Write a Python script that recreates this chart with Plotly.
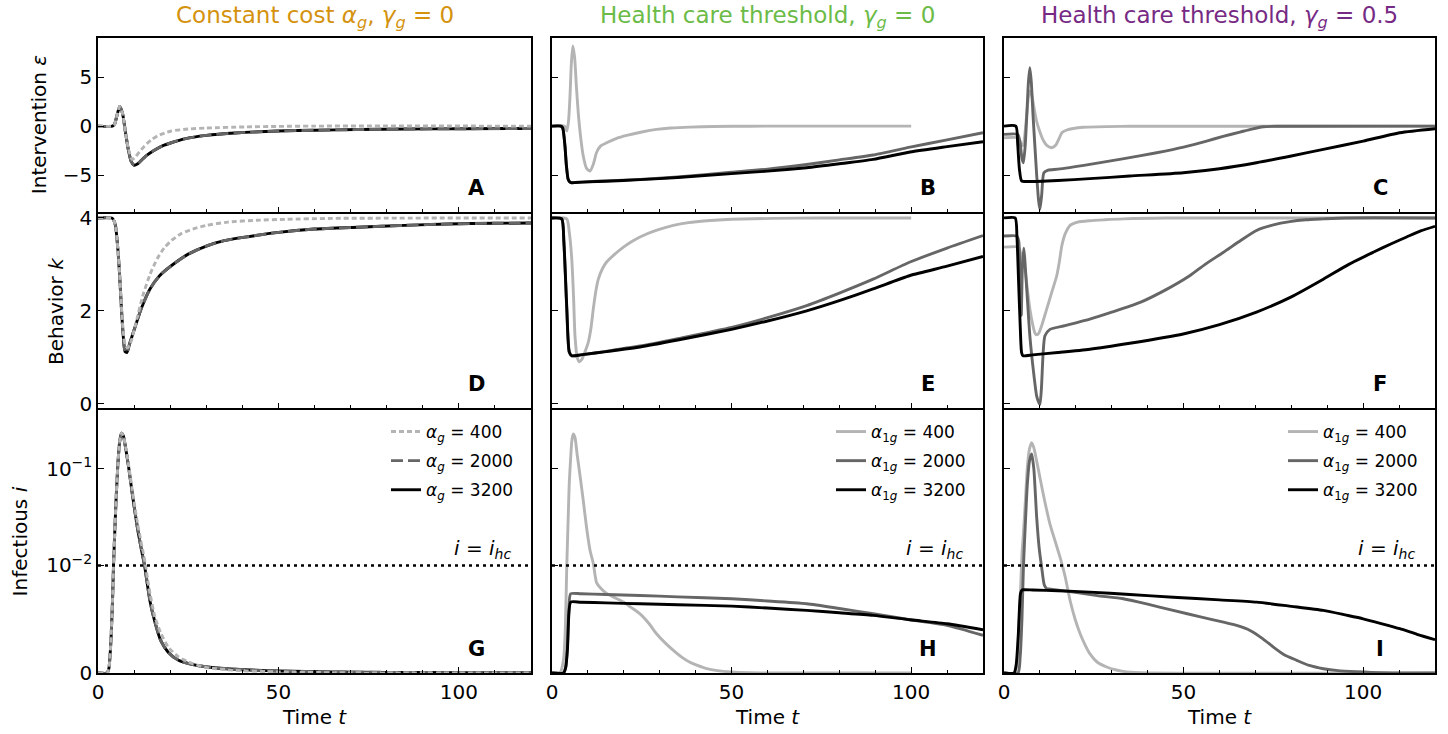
import numpy as np
import plotly.graph_objects as go

# ---------------- data ----------------
# Column 1: constant cost
t_A_hi = [0, 4.0, 4.6, 5.2, 6.0, 6.8, 7.6, 8.4, 9.2, 10.0, 11.0, 12.0, 13.5, 15.5, 18.0, 20.3, 24.0, 30.0, 38.0, 50.0, 60.0, 72.0, 85.0, 100.0, 120.0]
eps_A_3200 = [0, 0, 0.2, 1.0, 2.0, 1.3, -0.6, -2.4, -3.6, -4.0, -3.85, -3.5, -3.0, -2.5, -2.0, -1.7, -1.3, -0.95, -0.7, -0.5, -0.42, -0.35, -0.3, -0.27, -0.24]
eps_A_2000 = [0, 0, 0.2, 1.0, 2.0, 1.3, -0.6, -2.4, -3.6, -4.0, -3.85, -3.5, -3.0, -2.5, -2.0, -1.7, -1.3, -0.95, -0.7, -0.5, -0.42, -0.35, -0.3, -0.27, -0.24]
t_A_lo = [0, 4.0, 4.6, 5.2, 6.0, 6.8, 7.6, 8.4, 9.4, 10.4, 11.5, 12.5, 13.5, 15.0, 16.5, 18.5, 20.3, 25.0, 30.0, 41.0, 50.0, 60.0, 120.0]
eps_A_400 = [0, 0, 0.2, 1.0, 2.0, 1.3, -0.6, -2.3, -3.4, -3.15, -2.6, -2.2, -1.8, -1.35, -1.0, -0.7, -0.5, -0.3, -0.2, -0.08, -0.03, 0, 0]

t_D_hi = [0, 4.0, 4.8, 5.5, 6.0, 6.5, 7.0, 7.5, 8.0, 8.8, 10.4, 12.0, 14.4, 17.0, 20.3, 25.0, 30.2, 35.0, 40.2, 50.0, 60.0, 72.0, 85.0, 97.0, 110.0, 120.0]
k_D_3200 = [4.0, 3.99, 3.85, 3.33, 2.75, 2.04, 1.45, 1.12, 1.1, 1.3, 1.68, 2.05, 2.47, 2.75, 2.97, 3.22, 3.40, 3.51, 3.58, 3.69, 3.76, 3.80, 3.84, 3.87, 3.885, 3.89]
k_D_2000 = [4.0, 3.99, 3.85, 3.33, 2.75, 2.04, 1.45, 1.12, 1.1, 1.3, 1.68, 2.05, 2.47, 2.75, 2.97, 3.22, 3.40, 3.51, 3.58, 3.69, 3.76, 3.80, 3.84, 3.87, 3.885, 3.89]
t_D_lo = [0, 4.0, 4.8, 5.5, 6.0, 6.5, 7.0, 7.6, 8.2, 9.0, 10.4, 12.4, 14.4, 16.4, 18.3, 20.3, 23.0, 26.3, 30.0, 36.0, 44.0, 52.0, 65.0, 120.0]
k_D_400 = [4.0, 3.99, 3.85, 3.33, 2.8, 2.1, 1.55, 1.25, 1.2, 1.3, 1.7, 2.32, 2.78, 3.12, 3.35, 3.51, 3.66, 3.76, 3.84, 3.91, 3.95, 3.97, 3.99, 4.0]

t_G = [0, 2.5, 3.0, 3.5, 4.0, 4.3, 4.7, 5.0, 5.5, 6.0, 6.5, 7.0, 7.7, 8.5, 9.5, 10.9, 12.0, 12.9, 14.4, 15.8, 17.4, 19.5, 22.3, 26.0, 30.2, 38.0, 50.0, 65.0, 80.0, 100.0, 120.0]
i_G_3200 = [0, 0, 0.0004, 0.0025, 0.0065, 0.01, 0.025, 0.047, 0.11, 0.19, 0.233, 0.22, 0.16, 0.103, 0.055, 0.0248, 0.0148, 0.01, 0.0067, 0.0047, 0.003, 0.0019, 0.00118, 0.0008, 0.00056, 0.00035, 0.00019, 0.0001, 0.00006, 0.00003, 0.00002]
i_G_2000 = [0, 0, 0.0004, 0.0025, 0.0065, 0.01, 0.025, 0.047, 0.11, 0.19, 0.233, 0.22, 0.16, 0.103, 0.055, 0.0248, 0.0148, 0.01, 0.0067, 0.0047, 0.003, 0.0019, 0.00118, 0.0008, 0.00056, 0.00035, 0.00019, 0.0001, 0.00006, 0.00003, 0.00002]
i_G_400 = [0, 0, 0.0004, 0.0025, 0.0065, 0.01, 0.025, 0.047, 0.11, 0.19, 0.233, 0.22, 0.165, 0.108, 0.06, 0.028, 0.017, 0.0115, 0.0074, 0.0052, 0.0037, 0.0024, 0.0015, 0.0009, 0.0005, 0.00025, 0.0001, 0.00003, 0.00001, 0, 0]

# Column 2: health care threshold, gamma_g = 0
t_B_400 = [0, 3.5, 4.1, 4.6, 5.0, 5.4, 5.8, 6.3, 6.8, 7.3, 8.0, 8.7, 9.6, 10.6, 11.5, 12.4, 13.5, 15.2, 18.0, 20.8, 25.0, 29.1, 33.0, 38.4, 45.0, 55.0, 70.0, 100.0]
eps_B_400 = [0, 0, -0.5, 0.5, 3.0, 6.5, 8.2, 7.0, 4.0, 1.4, -1.2, -3.06, -4.3, -4.59, -3.9, -2.7, -2.05, -1.7, -1.25, -0.95, -0.6, -0.34, -0.2, -0.1, -0.04, -0.01, 0, 0]
t_B = [0, 2.5, 3.0, 3.6, 4.0, 4.5, 5.0, 5.5, 6.5, 10.0, 15.0, 24.5, 35.0, 50.0, 60.0, 70.9, 80.0, 89.4, 99.7, 110.0, 120.0]
eps_B_2000 = [0, 0, -0.2, -2.0, -4.0, -5.44, -5.72, -5.78, -5.76, -5.68, -5.6, -5.44, -5.2, -4.72, -4.4, -3.92, -3.45, -2.95, -2.15, -1.4, -0.68]
eps_B_3200 = [0, 0, -0.2, -2.0, -4.0, -5.44, -5.72, -5.78, -5.76, -5.70, -5.63, -5.47, -5.25, -4.85, -4.6, -4.25, -3.85, -3.4, -2.65, -2.1, -1.6]

t_E_400 = [0, 4.1, 4.8, 5.5, 6.0, 6.4, 7.0, 7.6, 8.3, 9.2, 10.1, 10.8, 11.5, 12.2, 12.9, 14.0, 15.2, 17.5, 19.9, 22.0, 24.5, 29.0, 33.8, 38.0, 43.1, 50.0, 61.6, 75.0, 100.0]
k_E_400 = [4.0, 3.98, 3.7, 3.12, 2.3, 1.46, 1.0, 0.9, 0.95, 1.12, 1.32, 1.6, 2.04, 2.42, 2.68, 2.9, 3.05, 3.22, 3.37, 3.48, 3.59, 3.73, 3.84, 3.9, 3.94, 3.97, 3.99, 4.0, 4.0]
t_E = [0, 2.7, 3.3, 4.1, 4.8, 5.5, 8.0, 12.0, 17.0, 24.5, 35.0, 50.0, 60.0, 70.9, 80.0, 89.4, 99.7, 110.0, 120.0]
k_E_2000 = [4.0, 3.98, 3.48, 2.04, 1.10, 1.03, 1.05, 1.09, 1.15, 1.24, 1.40, 1.64, 1.85, 2.11, 2.38, 2.68, 3.05, 3.35, 3.62]
k_E_3200 = [4.0, 3.98, 3.5, 2.1, 1.12, 1.03, 1.05, 1.09, 1.14, 1.22, 1.37, 1.60, 1.78, 2.0, 2.22, 2.47, 2.76, 2.96, 3.17]

t_H_400 = [0, 2.2, 3.2, 3.7, 4.1, 4.5, 4.8, 5.2, 5.5, 5.9, 6.4, 7.0, 7.8, 8.7, 9.6, 10.6, 11.5, 12.4, 13.5, 15.2, 17.5, 19.9, 22.0, 24.5, 27.0, 29.1, 31.5, 33.8, 36.0, 38.4, 40.5, 43.1, 46.0, 50.0, 55.0, 60.0, 100.0]
i_H_400 = [0, 0, 0.0012, 0.004, 0.0098, 0.03, 0.07, 0.13, 0.19, 0.228, 0.21, 0.14, 0.085, 0.047, 0.025, 0.0143, 0.0105, 0.0084, 0.0079, 0.0074, 0.007, 0.0066, 0.0061, 0.0055, 0.0046, 0.00365, 0.0028, 0.0021, 0.0015, 0.001, 0.0007, 0.0004, 0.00022, 0.0001, 0.00003, 0, 0]
t_H = [0, 3.2, 3.8, 4.3, 4.7, 5.2, 8.0, 15.0, 24.5, 35.0, 50.0, 60.0, 70.9, 80.0, 89.4, 99.7, 110.0, 120.0]
i_H_2000 = [0, 0, 0.0005, 0.0025, 0.006, 0.00737, 0.00737, 0.0073, 0.00721, 0.00708, 0.0069, 0.0067, 0.00644, 0.006, 0.00551, 0.00495, 0.00443, 0.0035]
i_H_3200 = [0, 0, 0.0005, 0.0022, 0.0055, 0.00659, 0.00658, 0.00652, 0.00644, 0.00635, 0.00622, 0.00604, 0.00582, 0.0056, 0.00536, 0.00495, 0.00458, 0.00402]

# Column 3: health care threshold, gamma_g = 0.5
t_C_400 = [0, 3.8, 4.4, 5.0, 5.4, 5.9, 6.4, 6.8, 7.2, 7.7, 8.3, 9.0, 10.0, 11.0, 12.0, 13.3, 14.5, 15.3, 16.1, 17.5, 19.3, 22.0, 28.6, 35.0, 120.0]
eps_C_400 = [-1.19, -1.19, -1.5, -2.0, -1.9, -0.5, 1.5, 3.0, 3.6, 3.2, 2.0, 0.6, -0.6, -1.5, -2.0, -2.21, -1.9, -1.3, -0.68, -0.4, -0.24, -0.12, -0.05, -0.02, 0]
t_C_2000 = [0, 3.8, 4.4, 5.0, 5.4, 5.9, 6.4, 6.8, 7.2, 7.6, 8.1, 8.6, 9.1, 9.6, 10.0, 10.5, 11.1, 12.3, 15.0, 23.9, 33.0, 42.5, 50.0, 56.4, 61.0, 65.7, 69.0, 72.2, 76.0, 120.0]
eps_C_2000 = [-0.85, -0.85, -1.5, -3.3, -3.74, -2.0, 1.5, 4.5, 5.96, 4.5, 1.0, -2.04, -5.0, -7.5, -8.5, -7.0, -4.76, -4.49, -4.4, -3.91, -3.35, -2.72, -2.15, -1.53, -1.05, -0.61, -0.3, -0.07, -0.01, 0]
t_C_3200 = [0, 3.3, 3.8, 4.3, 4.9, 6.5, 15.0, 23.9, 35.0, 49.9, 60.0, 70.3, 80.0, 88.9, 100.0, 110.2, 120.0]
eps_C_3200 = [0, 0, -1.8, -4.42, -5.6, -5.66, -5.55, -5.37, -5.1, -4.76, -4.35, -3.74, -3.05, -2.38, -1.53, -0.68, -0.27]

t_F_400 = [0, 4.0, 4.6, 5.0, 5.4, 6.0, 6.6, 7.2, 8.0, 8.6, 9.1, 9.7, 10.5, 11.9, 13.3, 14.7, 15.4, 16.1, 17.0, 18.4, 20.5, 23.9, 28.0, 33.2, 45.0, 120.0]
k_F_400 = [3.37, 3.37, 3.25, 2.95, 3.1, 2.8, 2.4, 2.04, 1.7, 1.52, 1.48, 1.52, 1.68, 2.04, 2.4, 2.76, 3.05, 3.40, 3.65, 3.84, 3.91, 3.94, 3.96, 3.98, 4.0, 4.0]
t_F_2000 = [0, 3.5, 4.1, 4.5, 4.8, 5.1, 5.5, 6.3, 7.2, 8.2, 9.1, 9.7, 10.0, 10.4, 10.9, 11.4, 12.8, 17.0, 23.9, 30.0, 37.9, 45.0, 51.8, 56.0, 61.1, 66.0, 70.3, 75.0, 79.6, 84.0, 88.9, 95.0, 120.0]
k_F_2000 = [3.61, 3.61, 3.5, 2.4, 1.9, 2.9, 3.35, 2.5, 1.46, 0.7, 0.16, 0.02, -0.02, 0.3, 1.1, 1.46, 1.6, 1.68, 1.82, 1.97, 2.18, 2.45, 2.76, 3.0, 3.26, 3.52, 3.73, 3.85, 3.92, 3.96, 3.98, 4.0, 4.0]
t_F_3200 = [0, 3.1, 3.6, 4.0, 4.5, 4.9, 5.3, 8.0, 15.0, 23.9, 35.0, 49.9, 60.0, 70.3, 80.0, 88.9, 96.0, 102.8, 108.0, 112.1, 116.0, 120.0]
k_F_3200 = [4.0, 4.0, 3.6, 2.76, 1.7, 1.10, 1.03, 1.05, 1.1, 1.17, 1.3, 1.50, 1.7, 1.97, 2.3, 2.68, 3.0, 3.26, 3.45, 3.59, 3.72, 3.82]

t_I_400 = [0, 3.1, 3.8, 4.5, 5.0, 5.4, 6.0, 6.5, 7.1, 7.7, 8.3, 9.0, 10.0, 11.4, 12.8, 14.2, 15.6, 17.0, 18.4, 19.8, 21.2, 22.6, 23.9, 26.0, 28.6, 31.0, 33.2, 38.0, 120.0]
i_I_400 = [0, 0, 0.002, 0.00674, 0.013, 0.0212, 0.05, 0.103, 0.16, 0.186, 0.165, 0.125, 0.0812, 0.045, 0.0268, 0.018, 0.0122, 0.009, 0.00674, 0.005, 0.00365, 0.0026, 0.0018, 0.001, 0.00056, 0.0003, 0.00015, 0.00003, 0]
t_I_2000 = [0, 3.9, 4.5, 5.0, 5.4, 6.0, 6.5, 7.1, 7.7, 8.3, 9.1, 9.8, 10.5, 11.2, 11.9, 13.0, 19.3, 26.0, 33.2, 40.0, 47.1, 55.0, 61.1, 65.0, 68.5, 72.0, 75.0, 78.0, 81.5, 85.0, 88.9, 93.0, 98.2, 105.0, 120.0]
i_I_2000 = [0, 0, 0.0015, 0.005, 0.0098, 0.03, 0.0695, 0.12, 0.1416, 0.1, 0.0314, 0.015, 0.0098, 0.0082, 0.00783, 0.0078, 0.00752, 0.0072, 0.0069, 0.0064, 0.00582, 0.0052, 0.00473, 0.0044, 0.00396, 0.0032, 0.00241, 0.0017, 0.00118, 0.0007, 0.0004, 0.00022, 0.00012, 0.00003, 0]
t_I_3200 = [0, 2.8, 3.4, 4.0, 4.3, 4.6, 5.0, 5.4, 8.0, 15.0, 23.9, 35.0, 47.1, 60.0, 70.3, 80.0, 88.9, 95.0, 100.0, 105.0, 110.2, 115.0, 120.0]
i_I_3200 = [0, 0, 0.0008, 0.0037, 0.006, 0.0074, 0.0077, 0.00774, 0.00772, 0.00765, 0.00752, 0.0073, 0.00705, 0.0068, 0.00659, 0.0062, 0.00582, 0.0054, 0.00504, 0.0046, 0.00412, 0.0036, 0.0031]

I_HC = 0.01
col_titles = ["Constant cost <i>α</i><sub><i>g</i></sub>, <i>γ</i><sub><i>g</i></sub> = 0",
              "Health care threshold, <i>γ</i><sub><i>g</i></sub> = 0",
              "Health care threshold, <i>γ</i><sub><i>g</i></sub> = 0.5"]
row_titles = ["Intervention <i>ε</i>", "Behavior <i>k</i>", "Infectious <i>i</i>"]
panel_letters = ["A", "B", "C", "D", "E", "F", "G", "H", "I"]

# ---------------- symlog scale (linthresh 0.01, linscale 1) ----------------
LINTHRESH = 0.01
def symlog(v):
    v = np.asarray(v, dtype=float)
    a = np.abs(v)
    adj = 1.0 / (1.0 - 0.1)
    out = np.where(a <= LINTHRESH, a / LINTHRESH * adj,
                   adj + np.log10(np.maximum(a, LINTHRESH) / LINTHRESH))
    return np.sign(v) * out

# ---------------- geometry (page pixels) ----------------
FW, FH = 1448, 734
def px(X):
    return X / FW
def py(Y):
    return 1 - Y / FH

FONT = "DejaVu Sans"
AXLW = 1.5
COLS = [(98, 531), (552, 983), (1004, 1435)]
ROWS = [(38, 213 - AXLW / 2), (213 + AXLW / 2, 409 - AXLW / 2), (409 + AXLW / 2, 673)]
LIGHT, MID, DARK = "#b4b4b4", "#666666", "#000000"
TITLE_COLORS = ["#D4920E", "#6CBB47", "#762A83"]
LW = 2.9

def names(r, c):
    n = r * 3 + c + 1
    return ("x" if n == 1 else f"x{n}"), ("y" if n == 1 else f"y{n}"), n

fig = go.Figure()

panels = {
    (0, 0): [(t_A_hi, eps_A_3200, "3200", DARK, "solid", 3), (t_A_hi, eps_A_2000, "2000", MID, "12px,5px", 2), (t_A_lo, eps_A_400, "400", LIGHT, "5px,3px", 1)],
    (1, 0): [(t_D_hi, k_D_3200, "3200", DARK, "solid", 3), (t_D_hi, k_D_2000, "2000", MID, "12px,5px", 2), (t_D_lo, k_D_400, "400", LIGHT, "5px,3px", 1)],
    (2, 0): [(t_G, i_G_3200, "3200", DARK, "solid", 3), (t_G, i_G_2000, "2000", MID, "12px,5px", 2), (t_G, i_G_400, "400", LIGHT, "5px,3px", 1)],
    (0, 1): [(t_B_400, eps_B_400, "400", LIGHT, "solid", 1), (t_B, eps_B_2000, "2000", MID, "solid", 2), (t_B, eps_B_3200, "3200", DARK, "solid", 3)],
    (1, 1): [(t_E_400, k_E_400, "400", LIGHT, "solid", 1), (t_E, k_E_2000, "2000", MID, "solid", 2), (t_E, k_E_3200, "3200", DARK, "solid", 3)],
    (2, 1): [(t_H_400, i_H_400, "400", LIGHT, "solid", 1), (t_H, i_H_2000, "2000", MID, "solid", 2), (t_H, i_H_3200, "3200", DARK, "solid", 3)],
    (0, 2): [(t_C_400, eps_C_400, "400", LIGHT, "solid", 1), (t_C_2000, eps_C_2000, "2000", MID, "solid", 2), (t_C_3200, eps_C_3200, "3200", DARK, "solid", 3)],
    (1, 2): [(t_F_400, k_F_400, "400", LIGHT, "solid", 1), (t_F_2000, k_F_2000, "2000", MID, "solid", 2), (t_F_3200, k_F_3200, "3200", DARK, "solid", 3)],
    (2, 2): [(t_I_400, i_I_400, "400", LIGHT, "solid", 1), (t_I_2000, i_I_2000, "2000", MID, "solid", 2), (t_I_3200, i_I_3200, "3200", DARK, "solid", 3)],
}

legend_ids = ["legend", "legend2", "legend3"]

for (r, c), series in panels.items():
    xn, yn, n = names(r, c)
    for t, vals, lab, col, dash, rank in series:
        yv = symlog(vals) if r == 2 else np.asarray(vals, dtype=float)
        if c == 0:
            nm = f"<i>α</i><sub><i>g</i></sub> = {lab}"
        else:
            nm = f"<i>α</i><sub>1<i>g</i></sub> = {lab}"
        fig.add_trace(go.Scatter(
            x=t, y=yv, mode="lines", xaxis=xn, yaxis=yn,
            line=dict(color=col, width=LW, dash=dash, shape="spline", smoothing=0.6),
            name=nm, showlegend=(r == 2), legend=legend_ids[c],
            legendgroup=f"c{c}_{lab}", legendrank=rank, hoverinfo="skip"))
    if r == 2:
        fig.add_trace(go.Scatter(
            x=[0, 120], y=symlog([I_HC, I_HC]), mode="lines", xaxis=xn, yaxis=yn,
            line=dict(color="black", width=2.6, dash="3px,4px"),
            showlegend=False, hoverinfo="skip"))

tickfont = dict(family=FONT, size=20, color="black")
yranges = [[-8.8, 9.0], [-0.1, 4.09], [0, 2.72]]
ytickvals = [[-5, 0, 5], [0, 2, 4], list(symlog([0, 0.01, 0.1]))]
yticktext = [["−5", "0", "5"], ["0", "2", "4"], ["0", "10<sup>−2</sup>", "10<sup>−1</sup>"]]

layout = dict(width=FW, height=FH, margin=dict(l=0, r=0, t=0, b=0, autoexpand=False),
              paper_bgcolor="white", plot_bgcolor="white", template="none",
              font=dict(family=FONT, color="black"))
annotations = []

for r in range(3):
    for c in range(3):
        xn, yn, n = names(r, c)
        xkey = "xaxis" if n == 1 else f"xaxis{n}"
        ykey = "yaxis" if n == 1 else f"yaxis{n}"
        layout[xkey] = dict(
            domain=[px(COLS[c][0]), px(COLS[c][1])], anchor=yn, range=[0, 120],
            tickmode="array", tickvals=[0, 50, 100], ticktext=["0", "50", "100"],
            ticks="inside", ticklen=6, tickwidth=1.3, tickcolor="black",
            minor=dict(tickmode="linear", tick0=0, dtick=10, ticks="inside", ticklen=3.5,
                       tickwidth=1.1, tickcolor="black", showgrid=False),
            showline=True, linecolor="black", linewidth=AXLW, mirror=True,
            showgrid=False, zeroline=False, showticklabels=(r == 2),
            tickfont=tickfont, automargin=False, fixedrange=True)
        layout[ykey] = dict(
            domain=[py(ROWS[r][1]), py(ROWS[r][0])], anchor=xn, range=yranges[r],
            tickmode="array", tickvals=ytickvals[r], ticktext=yticktext[r],
            ticks="inside", ticklen=6, tickwidth=1.3, tickcolor="black",
            showline=True, linecolor="black", linewidth=AXLW, mirror=True,
            showgrid=False, zeroline=False, showticklabels=(c == 0),
            tickfont=tickfont, automargin=False, fixedrange=True)
        annotations.append(dict(
            text=f"<b>{panel_letters[n - 1]}</b>", xref="paper", yref="paper",
            x=px(COLS[c][1] - 55), y=py(ROWS[r][1] - 24),
            xanchor="center", yanchor="middle", showarrow=False,
            font=dict(family=FONT, size=21, color="black")))
        if r == 2:
            annotations.append(dict(
                text="<i>i</i> = <i>i</i><sub><i>hc</i></sub>", xref="paper", yref="paper",
                x=px(COLS[c][1] - 18), y=py(549), xanchor="right", yanchor="middle",
                showarrow=False, font=dict(family=FONT, size=20, color="black")))

for c in range(3):
    cx = px((COLS[c][0] + COLS[c][1]) / 2)
    annotations.append(dict(text=col_titles[c], xref="paper", yref="paper", x=cx, y=py(17),
                            xanchor="center", yanchor="middle", showarrow=False,
                            font=dict(family=FONT, size=23, color=TITLE_COLORS[c])))
    annotations.append(dict(text="Time <i>t</i>", xref="paper", yref="paper", x=cx, y=py(717),
                            xanchor="center", yanchor="middle", showarrow=False,
                            font=dict(family=FONT, size=20, color="black")))

ylab_x = [39, 56, 20]
for r in range(3):
    cy = (ROWS[r][0] + ROWS[r][1]) / 2
    annotations.append(dict(text=row_titles[r], xref="paper", yref="paper",
                            x=px(ylab_x[r]), y=py(cy), xanchor="center", yanchor="middle",
                            textangle=-90, showarrow=False,
                            font=dict(family=FONT, size=20, color="black")))

layout["annotations"] = annotations

for c in range(3):
    layout[legend_ids[c]] = dict(
        x=px(COLS[c][1] - 12), xanchor="right", y=py(414), yanchor="top",
        bgcolor="rgba(0,0,0,0)", borderwidth=0, tracegroupgap=4, itemwidth=30,
        font=dict(family=FONT, size=17, color="black"), traceorder="grouped")

fig.update_layout(**layout)
fig.write_html("out.html",
               config={"displayModeBar": False},
               post_script="document.body.style.margin='0px';document.body.style.overflow='hidden';")
